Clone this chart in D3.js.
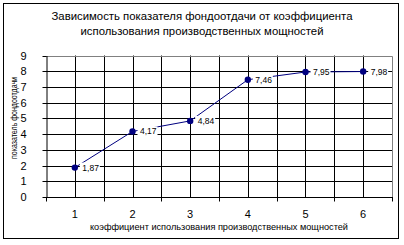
<!DOCTYPE html>
<html>
<head>
<meta charset="utf-8">
<script src="https://cdn.jsdelivr.net/npm/d3@7"></script>
<style>
  body { margin: 0; background: #fff; }
  text { font-family: "Liberation Sans", Arial, sans-serif; fill: #000; }
</style>
</head>
<body>
<div id="chart"></div>
<script>
const categories = ['1', '2', '3', '4', '5', '6'];
const values = [1.87, 4.17, 4.84, 7.46, 7.95, 7.98];
const valueLabels = ['1,87', '4,17', '4,84', '7,46', '7,95', '7,98'];
const yTicks = [0, 1, 2, 3, 4, 5, 6, 7, 8, 9];
const titleLines = ['Зависимость показателя фондоотдачи от коэффициента', 'использования производственных мощностей'];
const xTitle = 'коэффициент использования производственных мощностей';
const yTitle = 'показатель фондоотдачи';

const width = 404, height = 245;
const plot = { left: 46, right: 392, top: 55.5, bottom: 197 };

const svg = d3.select('#chart').append('svg')
  .attr('width', width)
  .attr('height', height);

// outer chart border
svg.append('rect')
  .attr('x', 3.5).attr('y', 3.5)
  .attr('width', 395).attr('height', 235)
  .attr('fill', '#fff')
  .attr('stroke', '#000');

const x = d3.scaleBand().domain(categories).range([plot.left, plot.right]);
const y = d3.scaleLinear().domain([0, 9]).range([plot.bottom, plot.top]);

// vertical gridlines at category boundaries and centres
const vLines = [];
categories.forEach((c, i) => {
  if (i > 0) vLines.push(x(c));
  vLines.push(x(c) + x.bandwidth() / 2);
});
svg.append('g').selectAll('line')
  .data(vLines)
  .enter().append('line')
  .attr('x1', d => Math.round(d) + 0.5).attr('x2', d => Math.round(d) + 0.5)
  .attr('y1', plot.top).attr('y2', plot.bottom)
  .attr('stroke', '#000');

// horizontal gridlines
svg.append('g').selectAll('line')
  .data(yTicks.filter(t => t > 0 && t < 9))
  .enter().append('line')
  .attr('x1', plot.left).attr('x2', plot.right)
  .attr('y1', d => Math.round(y(d)) + 0.5).attr('y2', d => Math.round(y(d)) + 0.5)
  .attr('stroke', '#000');

// gray top / right plot border
svg.append('path')
  .attr('d', `M${plot.left},${Math.round(plot.top) + 0.5}H${plot.right + 0.5}V${plot.bottom}`)
  .attr('fill', 'none')
  .attr('stroke', '#808080');

// y axis
const yAxis = svg.append('g')
  .attr('transform', `translate(${plot.left + 0.5},0)`)
  .call(d3.axisLeft(y).tickValues(yTicks).tickSize(4).tickPadding(16).tickSizeOuter(0));
yAxis.select('.domain').attr('stroke', '#000');
yAxis.selectAll('.tick line').attr('stroke', '#000');
yAxis.selectAll('.tick').attr('transform', d => `translate(0,${Math.round(y(d)) + 0.5})`);
yAxis.selectAll('text').attr('font-size', 11).attr('font-family', '"Liberation Sans", Arial, sans-serif');

// x axis: ticks at category boundaries, labels at centres
const xAxis = svg.append('g')
  .attr('transform', `translate(0,${Math.round(plot.bottom) + 0.5})`);
xAxis.append('line')
  .attr('x1', plot.left).attr('x2', plot.right + 1)
  .attr('stroke', '#000');
const boundaries = categories.map(c => x(c)).concat([plot.right]);
xAxis.selectAll('.tk')
  .data(boundaries)
  .enter().append('line')
  .attr('class', 'tk')
  .attr('x1', d => Math.round(d) + 0.5).attr('x2', d => Math.round(d) + 0.5)
  .attr('y1', 0).attr('y2', 4)
  .attr('stroke', '#000');
xAxis.selectAll('text')
  .data(categories)
  .enter().append('text')
  .attr('x', d => x(d) + x.bandwidth() / 2)
  .attr('y', 20)
  .attr('text-anchor', 'middle')
  .attr('font-size', 11)
  .text(d => d);

// series line
const line = d3.line()
  .x((d, i) => x(categories[i]) + x.bandwidth() / 2)
  .y(d => y(d));
svg.append('path')
  .datum(values)
  .attr('d', line)
  .attr('fill', 'none')
  .attr('stroke', '#000080')
  .attr('stroke-width', 1);

// markers
svg.append('g').selectAll('circle')
  .data(values)
  .enter().append('circle')
  .attr('cx', (d, i) => x(categories[i]) + x.bandwidth() / 2)
  .attr('cy', d => y(d))
  .attr('r', 3.2)
  .attr('fill', '#000080');

// data labels with white background
const lbl = svg.append('g').selectAll('g')
  .data(values)
  .enter().append('g')
  .attr('transform', (d, i) => `translate(${x(categories[i]) + x.bandwidth() / 2 + 5},${y(d)})`);
lbl.append('rect')
  .attr('x', 0).attr('y', -5)
  .attr('width', 20).attr('height', 10)
  .attr('fill', '#fff');
lbl.append('text')
  .attr('x', 2.5)
  .attr('dy', '0.35em')
  .attr('font-size', 8.5)
  .text((d, i) => valueLabels[i]);

// titles
const titleWidths = [301, 243];
svg.append('g').selectAll('text')
  .data(titleLines)
  .enter().append('text')
  .attr('x', (d, i) => 202 - titleWidths[i] / 2)
  .attr('y', (d, i) => 20 + i * 15)
  .attr('font-size', 11.5)
  .attr('textLength', (d, i) => titleWidths[i])
  .attr('lengthAdjust', 'spacingAndGlyphs')
  .text(d => d);

svg.append('text')
  .attr('x', 90)
  .attr('y', 230)
  .attr('font-size', 9.5)
  .attr('textLength', 258)
  .attr('lengthAdjust', 'spacingAndGlyphs')
  .text(xTitle);

svg.append('text')
  .attr('transform', 'translate(17,159) rotate(-90)')
  .attr('font-size', 8.5)
  .attr('textLength', 82)
  .attr('lengthAdjust', 'spacingAndGlyphs')
  .text(yTitle);
</script>
</body>
</html>
